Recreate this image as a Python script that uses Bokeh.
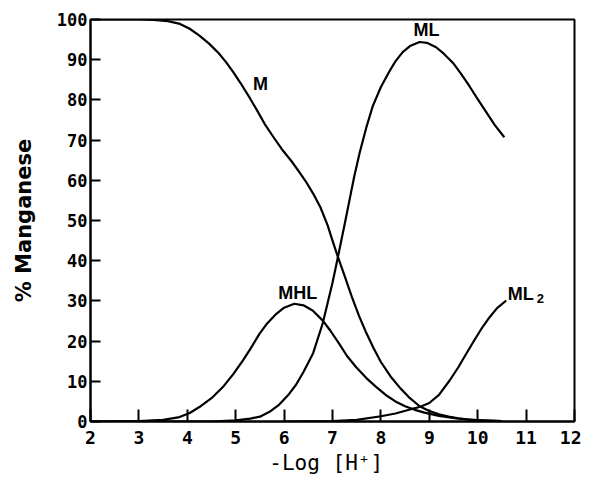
from bokeh.plotting import figure
from bokeh.models import Range1d, FixedTicker, Label
from bokeh.embed import file_html
from bokeh.resources import INLINE

# -Log[H+] vs % Manganese
m_x = [2.0, 3.0, 3.3, 3.6, 3.85, 4.05, 4.25, 4.45, 4.65, 4.8, 4.95, 5.1, 5.3, 5.45,
       5.6, 5.8, 5.95, 6.15, 6.3, 6.45, 6.6, 6.75, 6.9, 7.0, 7.11, 7.25, 7.4, 7.55,
       7.7, 7.85, 8.0, 8.2, 8.4, 8.6, 8.8, 9.0, 9.2, 9.4, 9.6, 9.8, 10.0, 10.25, 10.5]
m_y = [100, 100, 99.9, 99.6, 98.9, 97.7, 96.0, 94.0, 91.6, 89.4, 86.9, 84.2, 80.3, 77.2,
       74.0, 70.4, 67.8, 64.8, 62.3, 59.7, 56.7, 53.3, 48.8, 45.0, 41.0, 36.2, 31.0, 26.2,
       22.0, 18.2, 14.8, 11.2, 8.3, 5.8, 3.8, 2.6, 1.8, 1.2, 0.8, 0.5, 0.35, 0.2, 0.1]

ml_x = [2.0, 4.5, 5.0, 5.3, 5.5, 5.7, 5.9, 6.1, 6.25, 6.4, 6.6, 6.8, 7.0, 7.11, 7.25,
        7.35, 7.45, 7.56, 7.7, 7.83, 8.0, 8.18, 8.3, 8.45, 8.6, 8.8, 8.95, 9.14, 9.3,
        9.49, 9.65, 9.83, 10.0, 10.18, 10.35, 10.55]
ml_y = [0, 0, 0.3, 0.7, 1.2, 2.4, 4.2, 6.8, 9.2, 12.3, 17.0, 24.5, 34.5, 40.8, 49.0,
        55.0, 61.0, 66.8, 73.2, 78.4, 83.2, 87.2, 89.6, 91.9, 93.4, 94.4, 94.2, 93.1, 91.5,
        89.2, 86.6, 83.4, 80.2, 76.9, 73.8, 70.7]

mhl_x = [2.0, 3.0, 3.5, 3.84, 4.05, 4.25, 4.5, 4.73, 4.95, 5.15, 5.3, 5.49, 5.65, 5.84,
         6.0, 6.21, 6.4, 6.59, 6.8, 6.95, 7.14, 7.3, 7.49, 7.7, 7.9, 8.1, 8.3, 8.5, 8.7,
         8.9, 9.2, 9.6, 10.0, 10.5]
mhl_y = [0, 0.1, 0.4, 1.1, 2.1, 3.6, 5.8, 8.5, 11.8, 15.2, 18.0, 21.8, 24.4, 26.8,
         28.3, 29.3, 28.9, 27.6, 25.1, 22.7, 19.3, 16.3, 13.5, 10.8, 8.6, 6.6, 5.0, 3.8, 2.9,
         2.2, 1.4, 0.7, 0.3, 0.1]

ml2_x = [6.0, 7.0, 7.5, 8.0, 8.3, 8.6, 8.8, 9.0, 9.2, 9.42, 9.6, 9.76, 9.93, 10.1,
         10.25, 10.4, 10.59]
ml2_y = [0, 0.1, 0.4, 1.3, 2.0, 3.0, 3.6, 4.6, 6.6, 10.2, 13.5, 16.8, 20.2, 23.5,
         26.0, 28.2, 30.1]

x_ticks = [2, 3, 4, 5, 6, 7, 8, 9, 10, 11, 12]
y_ticks = [0, 10, 20, 30, 40, 50, 60, 70, 80, 90, 100]

labels = ["M", "ML", "MHL", "ML"]
label_x = [5.51, 8.94, 6.28, 10.62]
label_y = [84, 97.3, 31.9, 31.8]

p = figure(width=581, height=477, output_backend="svg", toolbar_location=None,
           x_range=Range1d(2, 12), y_range=Range1d(0, 100),
           min_border_left=90, min_border_right=7, min_border_top=19, min_border_bottom=56)
p.grid.visible = False
p.background_fill_color = "white"
p.border_fill_color = "white"
p.outline_line_color = "black"
p.outline_line_width = 2

for ax in (p.xaxis[0], p.yaxis[0]):
    ax.axis_line_width = 2
    ax.axis_line_color = "black"
    ax.major_tick_line_width = 2
    ax.major_tick_line_color = "black"
    ax.major_tick_out = 0
    ax.minor_tick_line_color = None
    ax.major_label_text_font = "DejaVu Sans Mono"
    ax.major_label_text_font_style = "bold"
    ax.major_label_text_color = "black"
    ax.axis_label_text_color = "black"

p.xaxis.ticker = FixedTicker(ticks=x_ticks)
p.yaxis.ticker = FixedTicker(ticks=y_ticks)
p.xaxis.major_tick_in = 12
p.yaxis.major_tick_in = 10
p.xaxis.major_label_text_font_size = "18px"
p.yaxis.major_label_text_font_size = "17px"
p.xaxis.major_label_standoff = 9
p.yaxis.major_label_standoff = 3

p.xaxis.axis_label = "-Log  [H\u207a]"
p.xaxis.axis_label_text_font = "DejaVu Sans Mono"
p.xaxis.axis_label_text_font_style = "normal"
p.xaxis.axis_label_text_font_size = "21px"
p.xaxis.axis_label_standoff = 4

p.yaxis.axis_label = "% Manganese"
p.yaxis.axis_label_text_font = "DejaVu Sans"
p.yaxis.axis_label_text_font_style = "bold"
p.yaxis.axis_label_text_font_size = "21px"
p.yaxis.axis_label_standoff = 18

for xs, ys in ((m_x, m_y), (ml_x, ml_y), (mhl_x, mhl_y), (ml2_x, ml2_y)):
    p.line(xs, ys, line_color="black", line_width=2.2, line_join="round")

for i, t in enumerate(labels):
    align = "left" if i == 3 else "center"
    p.add_layout(Label(x=label_x[i], y=label_y[i], text=t, text_align=align,
                       text_baseline="middle", text_font="Liberation Sans",
                       text_font_style="bold", text_font_size="18px",
                       text_color="black"))
# subscript of ML2
p.add_layout(Label(x=label_x[3], y=label_y[3], x_offset=29, y_offset=-5, text="2",
                   text_align="left", text_baseline="middle", text_font="Liberation Sans",
                   text_font_style="bold", text_font_size="13px", text_color="black"))

open("out.html", "w").write(file_html(p, INLINE))
